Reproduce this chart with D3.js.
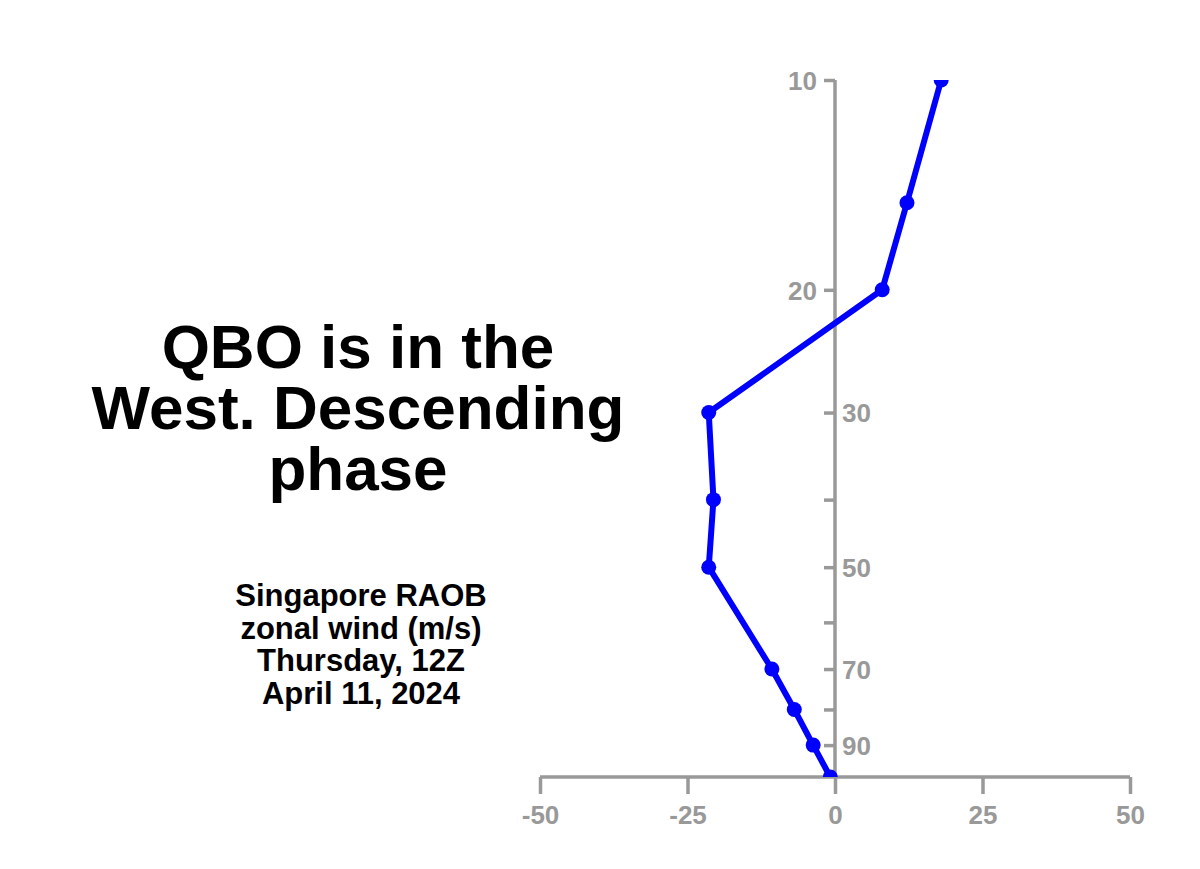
<!DOCTYPE html>
<html><head><meta charset="utf-8">
<script src="https://cdn.jsdelivr.net/npm/d3@7"></script>
<style>
html,body{margin:0;padding:0;background:#fff;}
svg{display:block;font-family:"Liberation Sans",Arial,Helvetica,sans-serif;}
</style></head>
<body>
<svg id="chart" width="1200" height="869"></svg>
<script>
// Data
const pressureLevels = [10, 15, 20, 30, 40, 50, 70, 80, 90, 100];
const zonalWind = [18.0, 12.2, 8.0, -21.4, -20.6, -21.4, -10.7, -6.9, -3.7, -0.8];
const xTicks = [-50, -25, 0, 25, 50];
const yTicks = [10, 20, 30, 40, 50, 60, 70, 80, 90];
const yTickLabels = {10: "10", 20: "20", 30: "30", 50: "50", 70: "70", 90: "90"};
const titleLines = ["QBO is in the", "West. Descending", "phase"];
const subtitleLines = ["Singapore RAOB", "zonal wind (m/s)", "Thursday, 12Z", "April 11, 2024"];

(function () {
const svg = d3.select("#chart");
const mLeft = 540, mRight = 1130, mTop = 80, mBottom = 777;
const axisColor = "#999999";

const x = d3.scaleLinear().domain([-50, 50]).range([mLeft, mRight]);
const y = d3.scaleLog().domain([10, 100]).range([mTop, mBottom]);

// clip
svg.append("defs").append("clipPath").attr("id", "plotclip")
  .append("rect").attr("x", mLeft).attr("y", mTop).attr("width", mRight - mLeft).attr("height", mBottom - mTop);

// X axis
const xAxis = svg.append("g").attr("transform", `translate(0,${mBottom})`)
  .call(d3.axisBottom(x).tickValues(xTicks).tickSize(17).tickPadding(12).tickFormat(d => String(d)));
xAxis.select(".domain").attr("stroke", axisColor).attr("stroke-width", 3.5)
  .attr("d", `M${mLeft},0H${mRight}`);
xAxis.selectAll(".tick line").attr("stroke", axisColor).attr("stroke-width", 3.5);
xAxis.selectAll(".tick text").attr("fill", axisColor).attr("font-size", 26).attr("font-weight", "bold")
  .attr("font-family", "'Liberation Sans', Arial, sans-serif");

// Y axis at x=0
const y0 = x(0);
const yAxis = svg.append("g").attr("transform", `translate(${y0},0)`)
  .call(d3.axisLeft(y).tickValues(yTicks).tickSize(11).tickFormat(d => yTickLabels[d] || ""));
yAxis.select(".domain").attr("stroke", axisColor).attr("stroke-width", 3.5)
  .attr("d", `M0,${mTop}V${mBottom}`);
yAxis.selectAll(".tick line").attr("stroke", axisColor).attr("stroke-width", 3.5);
yAxis.selectAll(".tick text")
  .attr("fill", axisColor).attr("font-size", 26).attr("font-weight", "bold")
  .attr("font-family", "'Liberation Sans', Arial, sans-serif")
  .attr("text-anchor", d => d <= 20 ? "end" : "start")
  .attr("x", d => d <= 20 ? -18 : 7)
  .attr("dy", "0.36em");

// Line and markers
const pts = pressureLevels.map((p, i) => ({p, u: zonalWind[i]}));
const plot = svg.append("g").attr("clip-path", "url(#plotclip)");
plot.append("path").datum(pts)
  .attr("fill", "none").attr("stroke", "#0000ff").attr("stroke-width", 6)
  .attr("stroke-linejoin", "round")
  .attr("d", d3.line().x(d => x(d.u)).y(d => y(d.p)));
plot.selectAll("circle").data(pts).join("circle")
  .attr("cx", d => x(d.u)).attr("cy", d => y(d.p)).attr("r", 7.5).attr("fill", "#0000ff");

// Title
const cx = 358;
svg.append("text").attr("text-anchor", "middle").attr("font-size", 62).attr("font-weight", "bold")
  .attr("fill", "#000")
  .selectAll("tspan").data(titleLines).join("tspan")
  .attr("x", cx).attr("y", (d, i) => 368 + i * 61).text(d => d);

svg.append("text").attr("text-anchor", "middle").attr("font-size", 31).attr("font-weight", "bold")
  .attr("fill", "#000")
  .selectAll("tspan").data(subtitleLines).join("tspan")
  .attr("x", 361).attr("y", (d, i) => 606 + i * 32.5).text(d => d);
})();
</script>
</body></html>
